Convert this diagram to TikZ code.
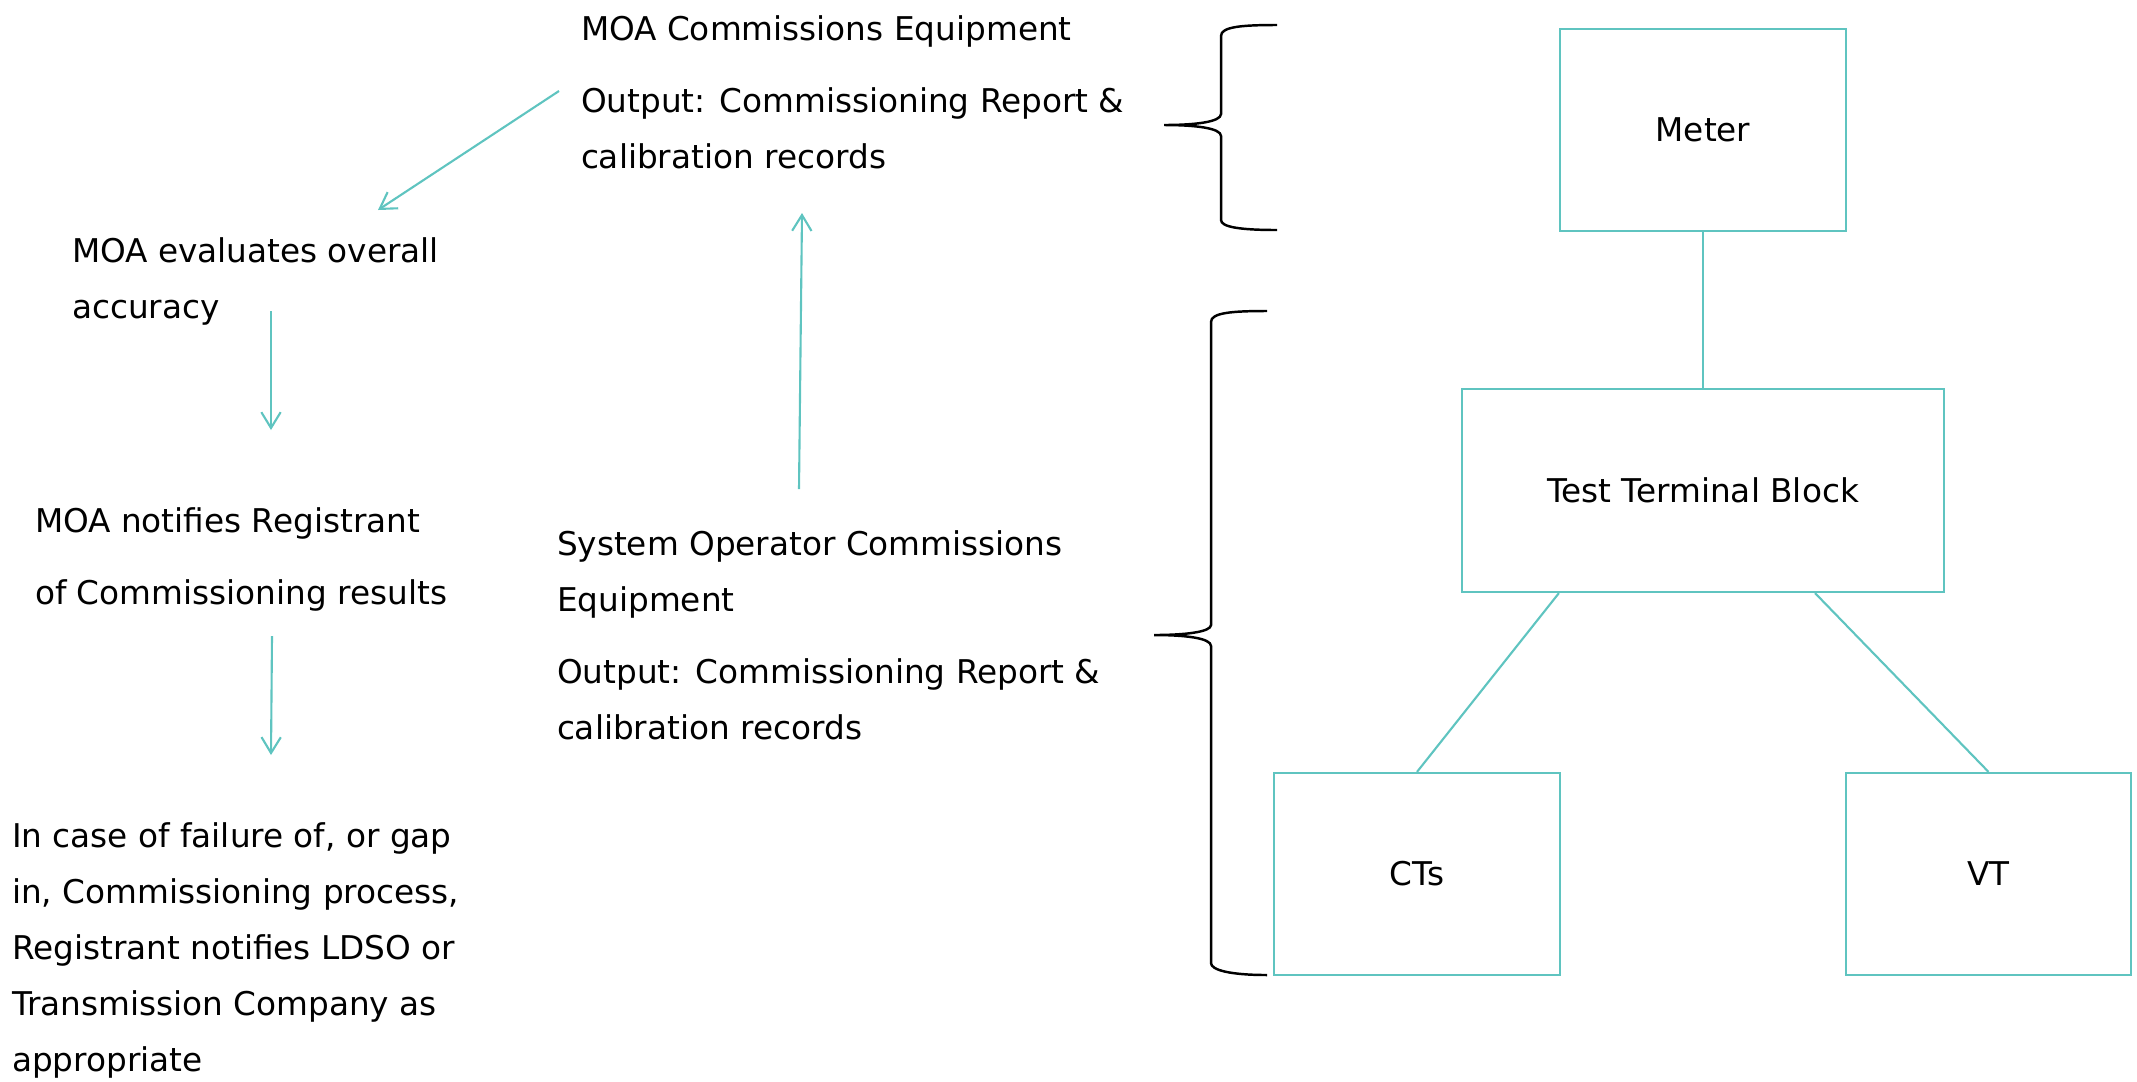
\documentclass[tikz,border=0pt]{standalone}
\usepackage{fontspec}
\setmainfont{DejaVu Sans}
\usetikzlibrary{arrows.meta}
\definecolor{tealc}{RGB}{95,196,192}
\tikzset{
  txt/.style={anchor=north west, inner sep=0pt, outer sep=0pt, align=left, font=\fontsize{9.3pt}{15.93pt}\selectfont},
  boxn/.style={draw=tealc, line width=0.6pt, inner sep=0pt, font=\fontsize{9.3pt}{15.93pt}\selectfont},
  conn/.style={draw=tealc, line width=0.6pt},
  arr/.style={draw=tealc, line width=0.6pt, -{Straight Barb[length=4.5pt,width=5.5pt]}},
  bracel/.style={draw=black, line width=0.7pt}
}
\begin{document}
\begin{tikzpicture}[x=0.01cm,y=-0.01cm]
\useasboundingbox (0,0) rectangle (2137,1081);

% left flow texts
\node[txt] (moacomm) at (581,0.8) {\strut MOA Commissions Equipment\\[4.55pt]Output: Commissioning Report \&\\calibration records};
\node[txt] (evaln) at (72,222.8) {\strut MOA evaluates overall\\accuracy};
\node[txt] (notify) at (35,492.8) {\strut MOA notifies Registrant\\[4.55pt]of Commissioning results};
\node[txt] (sysop) at (557,515.8) {\strut System Operator Commissions\\Equipment\\[4.55pt]Output: Commissioning Report \&\\calibration records};
\node[txt] (failn) at (12,807.8) {\strut In case of failure of, or gap\\in, Commissioning process,\\Registrant notifies LDSO or\\Transmission Company as\\appropriate};

% arrow end coordinates
\coordinate (a1s) at (559,91);
\coordinate (a1e) at (378,210);
\coordinate (a2s) at (271,311);
\coordinate (a2e) at (271,430);
\coordinate (a3s) at (272,636);
\coordinate (a3e) at (271,755);
\coordinate (a4s) at (799,489);
\coordinate (a4e) at (802,213);

\draw[arr] (a1s) -- (a1e);
\draw[arr] (a2s) -- (a2e);
\draw[arr] (a3s) -- (a3e);
\draw[arr] (a4s) -- (a4e);

% boxes
\node[boxn, minimum width=2.86cm, minimum height=2.02cm] (meter) at (1703,130) {Meter};
\node[boxn, minimum width=4.82cm, minimum height=2.03cm] (ttb) at (1703,490.5) {Test Terminal Block};
\node[boxn, minimum width=2.86cm, minimum height=2.02cm] (cts) at (1417,874) {CTs};
\node[boxn, minimum width=2.85cm, minimum height=2.02cm] (vt) at (1988.5,874) {VT};

\draw[conn] (meter.south) -- (ttb.north);
\draw[conn] (ttb.south -| meter.west) -- (cts.north);
\draw[conn] ([xshift=1.12cm]ttb.south) -- (vt.north);

% braces
\draw[bracel] (1277,25) .. controls (1240,25) and (1221,27) .. (1221,36)
  -- (1221,114) .. controls (1221,122) and (1195,125) .. (1164,125)
  .. controls (1195,125) and (1221,128) .. (1221,136)
  -- (1221,220) .. controls (1221,227) and (1240,230) .. (1277,230);
\draw[bracel] (1267,311) .. controls (1230,311) and (1211,313) .. (1211,322)
  -- (1211,625) .. controls (1211,632) and (1185,635) .. (1154,635)
  .. controls (1185,635) and (1211,638) .. (1211,646)
  -- (1211,963) .. controls (1211,970) and (1230,975) .. (1267,975);
\end{tikzpicture}
\end{document}
